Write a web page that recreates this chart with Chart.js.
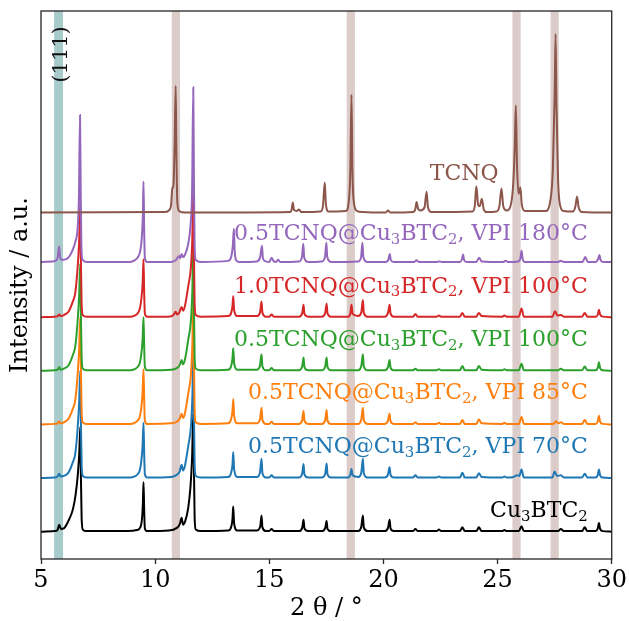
<!DOCTYPE html>
<html><head><meta charset="utf-8">
<script src="https://cdn.jsdelivr.net/npm/chart.js@4.4.0/dist/chart.umd.min.js"></script>
<style>html,body{margin:0;padding:0;background:#fff}canvas{display:block}</style>
</head><body>
<canvas id="c" width="629" height="621"></canvas>
<script>
// ---- data ----
const seriesNames = [
  'Cu₃BTC₂',
  '0.5TCNQ@Cu₃BTC₂, VPI 70°C',
  '0.5TCNQ@Cu₃BTC₂, VPI 85°C',
  '0.5TCNQ@Cu₃BTC₂, VPI 100°C',
  '1.0TCNQ@Cu₃BTC₂, VPI 100°C',
  '0.5TCNQ@Cu₃BTC₂, VPI 180°C',
  'TCNQ'
];
const seriesOffsets = [0, 1, 2, 3, 4, 5.02, 5.95];
const xTicks = [5, 10, 15, 20, 25, 30];
const tcnqBands = [10.91, 18.57, 25.83, 27.5];
const reflection111 = 5.77;

const cu3btc2 = [[5.0,0],[5.6,0.01],[5.72,0.03],[5.8,0.13],[5.87,0.05],[6.0,0.06],[6.2,0.2],[6.4,0.42],[6.52,0.7],[6.62,1.1],[6.68,1.5],[6.72,1.95],[6.75,1.0],[6.78,0.25],[6.83,0.04],[7.0,0.01],
[8.8,0.01],[9.2,0.03],[9.35,0.08],[9.42,0.22],[9.46,0.5],[9.49,0.92],[9.52,0.4],[9.55,0.06],[9.65,0.01],
[10.6,0.02],[10.95,0.07],[11.08,0.14],[11.16,0.26],[11.22,0.13],[11.32,0.2],[11.45,0.45],[11.55,0.85],[11.62,1.4],[11.67,2.2],[11.7,1.2],[11.73,0.25],[11.78,0.04],[12.0,0.01],
[13.2,0.02],[13.34,0.1],[13.39,0.25],[13.42,0.47],[13.46,0.15],[13.6,0.02],
[14.45,0.02],[14.6,0.09],[14.66,0.3],[14.7,0.08],[14.85,0.01],
[15.0,0.01],[15.1,0.05],[15.2,0.01],
[16.3,0.01],[16.44,0.07],[16.5,0.22],[16.54,0.06],[16.7,0.01],
[17.3,0.01],[17.45,0.07],[17.51,0.2],[17.55,0.05],[17.7,0.01],
[18.9,0.01],[19.03,0.09],[19.1,0.3],[19.14,0.08],[19.3,0.01],
[20.05,0.01],[20.2,0.07],[20.27,0.22],[20.31,0.06],[20.45,0.01],
[21.3,0.01],[21.4,0.05],[21.5,0.01],
[22.33,0.01],[22.43,0.04],[22.53,0.01],
[23.35,0.01],[23.46,0.08],[23.56,0.01],
[24.07,0.01],[24.18,0.08],[24.3,0.01],
[25.2,0.01],[25.3,0.03],[25.4,0.01],
[25.93,0.01],[26.05,0.1],[26.15,0.01],
[27.65,0.01],[27.77,0.05],[27.9,0.01],
[28.7,0.01],[28.82,0.08],[28.93,0.01],
[29.3,0.01],[29.39,0.06],[29.44,0.16],[29.49,0.05],[29.6,0.01],[30,0]];

const vpi70 = [[5.0,0],[5.6,0.01],[5.73,0.03],[5.8,0.08],[5.86,0.03],[6.0,0.04],[6.2,0.1],[6.4,0.3],[6.5,0.45],[6.6,0.9],[6.67,1.4],[6.72,2.0],[6.75,1.0],[6.78,0.25],[6.83,0.04],[7.0,0.01],
[8.9,0.01],[9.1,0.03],[9.25,0.08],[9.33,0.15],[9.39,0.3],[9.45,0.6],[9.49,1.03],[9.52,0.45],[9.55,0.07],[9.65,0.01],
[10.7,0.02],[10.95,0.06],[11.08,0.13],[11.16,0.25],[11.22,0.14],[11.3,0.22],[11.45,0.6],[11.57,0.97],[11.63,1.5],[11.67,2.3],[11.7,1.2],[11.73,0.25],[11.78,0.04],[12.0,0.01],
[13.2,0.02],[13.33,0.1],[13.39,0.26],[13.42,0.48],[13.46,0.16],[13.6,0.02],
[14.45,0.02],[14.59,0.1],[14.66,0.36],[14.7,0.09],[14.85,0.01],
[15.0,0.01],[15.1,0.05],[15.2,0.01],
[16.3,0.01],[16.44,0.08],[16.5,0.26],[16.54,0.07],[16.7,0.01],
[17.3,0.01],[17.45,0.08],[17.51,0.27],[17.55,0.07],[17.7,0.01],
[18.45,0.01],[18.55,0.06],[18.6,0.17],[18.65,0.05],[18.9,0.02],[19.03,0.1],[19.1,0.36],[19.14,0.09],[19.3,0.01],
[20.05,0.01],[20.2,0.07],[20.27,0.2],[20.31,0.06],[20.45,0.01],
[21.3,0.01],[21.4,0.05],[21.5,0.01],
[22.33,0.01],[22.43,0.03],[22.53,0.01],
[23.35,0.01],[23.46,0.1],[23.56,0.01],
[24.07,0.01],[24.18,0.09],[24.3,0.02],
[25.2,0.01],[25.3,0.03],[25.4,0.01],
[25.7,0.02],[25.85,0.05],[25.95,0.04],[26.05,0.16],[26.15,0.01],
[27.4,0.01],[27.5,0.12],[27.6,0.04],[27.77,0.05],[27.9,0.01],
[28.7,0.01],[28.82,0.08],[28.93,0.01],
[29.3,0.01],[29.39,0.06],[29.44,0.16],[29.49,0.05],[29.6,0.01],[30,0]];

const vpi85 = [[5.0,0],[5.6,0.01],[5.73,0.02],[5.8,0.06],[5.86,0.02],[6.0,0.04],[6.2,0.1],[6.4,0.3],[6.5,0.45],[6.6,0.9],[6.67,1.4],[6.72,2.0],[6.75,1.0],[6.78,0.25],[6.83,0.04],[7.0,0.01],
[8.9,0.01],[9.1,0.03],[9.25,0.08],[9.33,0.15],[9.39,0.3],[9.45,0.6],[9.49,1.03],[9.52,0.45],[9.55,0.07],[9.65,0.01],
[10.7,0.02],[10.95,0.05],[11.08,0.11],[11.16,0.2],[11.22,0.12],[11.3,0.2],[11.45,0.58],[11.57,0.95],[11.63,1.5],[11.67,2.3],[11.7,1.2],[11.73,0.25],[11.78,0.04],[12.0,0.01],
[13.2,0.02],[13.33,0.1],[13.39,0.26],[13.42,0.47],[13.46,0.16],[13.6,0.02],
[14.45,0.02],[14.59,0.09],[14.66,0.31],[14.7,0.08],[14.85,0.01],
[15.0,0.01],[15.1,0.05],[15.2,0.01],
[16.3,0.01],[16.44,0.08],[16.5,0.25],[16.54,0.07],[16.7,0.01],
[17.3,0.01],[17.45,0.08],[17.51,0.27],[17.55,0.07],[17.7,0.01],
[18.9,0.01],[19.03,0.09],[19.1,0.31],[19.14,0.08],[19.3,0.01],
[20.05,0.01],[20.2,0.07],[20.27,0.2],[20.31,0.06],[20.45,0.01],
[21.3,0.01],[21.4,0.04],[21.5,0.01],
[22.33,0.01],[22.43,0.03],[22.53,0.01],
[23.35,0.01],[23.46,0.08],[23.56,0.01],
[24.07,0.01],[24.18,0.09],[24.3,0.02],
[25.2,0.01],[25.3,0.03],[25.4,0.01],
[25.93,0.01],[26.05,0.14],[26.15,0.01],
[27.45,0.01],[27.55,0.06],[27.65,0.02],[27.77,0.04],[27.9,0.01],
[28.7,0.01],[28.82,0.08],[28.93,0.01],
[29.3,0.01],[29.39,0.06],[29.44,0.16],[29.49,0.05],[29.6,0.01],[30,0]];

const vpi100 = [[5.0,0],[5.6,0.01],[5.73,0.02],[5.8,0.07],[5.86,0.02],[6.0,0.04],[6.2,0.1],[6.4,0.3],[6.5,0.45],[6.6,0.9],[6.67,1.4],[6.72,2.0],[6.75,1.0],[6.78,0.25],[6.83,0.04],[7.0,0.01],
[8.9,0.01],[9.1,0.03],[9.25,0.08],[9.33,0.15],[9.39,0.3],[9.45,0.58],[9.49,1.0],[9.52,0.45],[9.55,0.07],[9.65,0.01],
[10.7,0.02],[10.95,0.05],[11.08,0.11],[11.16,0.2],[11.22,0.12],[11.3,0.2],[11.45,0.58],[11.57,0.95],[11.63,1.5],[11.67,2.3],[11.7,1.2],[11.73,0.25],[11.78,0.04],[12.0,0.01],
[13.2,0.02],[13.33,0.09],[13.39,0.24],[13.42,0.42],[13.46,0.14],[13.6,0.02],
[14.45,0.02],[14.59,0.09],[14.66,0.31],[14.7,0.08],[14.85,0.01],
[15.0,0.01],[15.1,0.05],[15.2,0.01],
[16.3,0.01],[16.44,0.08],[16.5,0.25],[16.54,0.07],[16.7,0.01],
[17.3,0.01],[17.45,0.08],[17.51,0.25],[17.55,0.07],[17.7,0.01],
[18.9,0.01],[19.03,0.09],[19.1,0.31],[19.14,0.08],[19.3,0.01],
[20.05,0.01],[20.2,0.07],[20.27,0.2],[20.31,0.06],[20.45,0.01],
[21.3,0.01],[21.4,0.04],[21.5,0.01],
[22.33,0.01],[22.43,0.03],[22.53,0.01],
[23.35,0.01],[23.46,0.09],[23.56,0.01],
[24.07,0.01],[24.18,0.09],[24.3,0.02],
[25.2,0.01],[25.3,0.03],[25.4,0.01],
[25.93,0.01],[26.05,0.13],[26.15,0.01],
[27.65,0.01],[27.77,0.04],[27.9,0.01],
[28.7,0.01],[28.82,0.08],[28.93,0.01],
[29.3,0.01],[29.39,0.06],[29.44,0.16],[29.49,0.05],[29.6,0.01],[30,0]];

const tcnq10vpi100 = [[5.0,0],[5.6,0.01],[5.73,0.02],[5.8,0.05],[5.86,0.02],[6.0,0.04],[6.2,0.1],[6.4,0.3],[6.5,0.45],[6.6,0.9],[6.67,1.4],[6.72,2.1],[6.75,1.0],[6.78,0.25],[6.83,0.04],[7.0,0.01],
[8.9,0.01],[9.1,0.03],[9.25,0.08],[9.33,0.16],[9.39,0.32],[9.45,0.62],[9.49,1.08],[9.52,0.45],[9.55,0.07],[9.65,0.01],
[10.6,0.01],[10.8,0.04],[10.9,0.1],[10.96,0.05],[11.05,0.08],[11.16,0.19],[11.22,0.12],[11.3,0.2],[11.45,0.58],[11.57,0.95],[11.63,1.5],[11.67,2.4],[11.7,1.2],[11.73,0.25],[11.78,0.04],[12.0,0.01],
[13.2,0.02],[13.33,0.08],[13.39,0.22],[13.42,0.39],[13.46,0.13],[13.6,0.02],
[14.45,0.02],[14.59,0.08],[14.66,0.29],[14.7,0.08],[14.85,0.01],
[15.0,0.01],[15.1,0.05],[15.2,0.01],
[16.3,0.01],[16.44,0.07],[16.5,0.23],[16.54,0.06],[16.7,0.01],
[17.3,0.01],[17.45,0.08],[17.51,0.25],[17.55,0.07],[17.7,0.01],
[18.45,0.01],[18.55,0.07],[18.6,0.23],[18.65,0.06],[18.9,0.02],[19.03,0.09],[19.1,0.32],[19.14,0.08],[19.3,0.01],
[20.05,0.01],[20.2,0.08],[20.27,0.23],[20.31,0.07],[20.45,0.01],
[21.3,0.01],[21.4,0.06],[21.5,0.01],
[22.33,0.01],[22.43,0.03],[22.53,0.01],
[23.35,0.01],[23.46,0.08],[23.56,0.01],
[24.07,0.01],[24.18,0.08],[24.3,0.02],
[25.2,0.01],[25.3,0.03],[25.4,0.01],
[25.93,0.01],[26.05,0.16],[26.15,0.01],
[27.4,0.01],[27.52,0.11],[27.62,0.03],[27.77,0.04],[27.9,0.01],
[28.7,0.01],[28.82,0.08],[28.93,0.01],
[29.3,0.01],[29.39,0.05],[29.44,0.14],[29.49,0.05],[29.6,0.01],[30,0]];

const vpi180 = [[5.0,0.01],[5.5,0.02],[5.7,0.05],[5.75,0.15],[5.79,0.3],[5.83,0.12],[5.9,0.05],[6.0,0.05],[6.2,0.09],[6.4,0.25],[6.5,0.38],[6.6,0.62],[6.66,1.2],[6.71,2.75],[6.74,1.3],[6.77,0.3],[6.82,0.05],[7.0,0.01],
[8.9,0.01],[9.1,0.04],[9.25,0.1],[9.35,0.22],[9.41,0.43],[9.46,0.85],[9.49,1.51],[9.52,0.6],[9.55,0.08],[9.65,0.01],
[10.7,0.01],[10.9,0.04],[11.05,0.12],[11.1,0.08],[11.16,0.16],[11.22,0.1],[11.3,0.14],[11.45,0.35],[11.55,0.7],[11.62,1.4],[11.67,3.27],[11.7,1.5],[11.73,0.3],[11.78,0.05],[12.0,0.01],
[13.2,0.03],[13.33,0.1],[13.4,0.3],[13.45,0.63],[13.48,0.25],[13.55,0.04],[13.7,0.01],
[14.45,0.02],[14.6,0.1],[14.68,0.31],[14.72,0.08],[14.85,0.02],
[15.0,0.01],[15.1,0.09],[15.2,0.02],[15.3,0.01],[15.38,0.05],[15.48,0.01],
[16.3,0.02],[16.43,0.1],[16.49,0.35],[16.53,0.09],[16.7,0.01],
[17.3,0.02],[17.44,0.1],[17.5,0.37],[17.54,0.1],[17.7,0.01],
[18.9,0.02],[19.02,0.1],[19.08,0.37],[19.12,0.1],[19.3,0.01],
[20.1,0.01],[20.22,0.06],[20.28,0.16],[20.32,0.05],[20.45,0.01],
[21.35,0.01],[21.45,0.04],[21.55,0.01],
[22.35,0.01],[22.45,0.02],[22.55,0.01],
[23.35,0.01],[23.44,0.06],[23.49,0.15],[23.53,0.05],[23.65,0.01],
[24.07,0.01],[24.19,0.09],[24.3,0.02],
[25.25,0.01],[25.35,0.03],[25.45,0.01],
[25.9,0.02],[26.0,0.08],[26.05,0.22],[26.1,0.06],[26.2,0.01],
[27.65,0.01],[27.77,0.03],[27.9,0.01],
[28.72,0.01],[28.84,0.1],[28.95,0.01],
[29.3,0.01],[29.4,0.06],[29.46,0.14],[29.51,0.05],[29.62,0.01],[30,0.01]];

const tcnq = [[5,0],[10.4,0.01],[10.6,0.04],[10.7,0.15],[10.75,0.45],[10.8,0.5],[10.85,1.2],[10.9,2.36],[10.93,1.2],[10.97,0.2],[11.05,0.03],[11.3,0],
[15.9,0.01],[15.98,0.06],[16.03,0.19],[16.08,0.05],[16.2,0.03],[16.3,0.06],[16.4,0.01],
[17.25,0.02],[17.35,0.12],[17.43,0.56],[17.48,0.15],[17.6,0.02],
[18.35,0.03],[18.48,0.2],[18.55,0.8],[18.6,2.2],[18.64,0.8],[18.72,0.15],[18.85,0.03],[19.1,0.01],
[20.1,0],[20.2,0.04],[20.3,0],
[21.3,0.01],[21.4,0.07],[21.45,0.2],[21.52,0.07],[21.62,0.04],[21.8,0.1],[21.89,0.39],[21.95,0.1],[22.1,0.01],
[23.9,0.02],[24.0,0.12],[24.07,0.49],[24.15,0.14],[24.22,0.12],[24.31,0.26],[24.4,0.05],[24.55,0.01],
[24.95,0.02],[25.08,0.12],[25.17,0.45],[25.25,0.12],[25.4,0.04],[25.55,0.1],[25.68,0.5],[25.75,1.2],[25.8,2.0],[25.85,0.9],[25.92,0.35],[26.0,0.47],[26.06,0.15],[26.2,0.03],
[27.1,0.03],[27.3,0.2],[27.42,0.8],[27.5,2.2],[27.54,3.33],[27.58,2.0],[27.65,0.6],[27.75,0.12],[27.9,0.03],
[28.3,0.02],[28.41,0.12],[28.48,0.3],[28.55,0.1],[28.7,0.01],[30,0]];

const seriesData = [cu3btc2, vpi70, vpi85, vpi100, tcnq10vpi100, vpi180, tcnq];
const seriesColors = ['#000000', '#1f77b4', '#ff7f0e', '#2ca02c', '#d62728', '#9467bd', '#8c564b'];

// ---- chart ----
const SERIF = '"DejaVu Serif", "Liberation Serif", serif';
const SUB = {'₀':'0','₁':'1','₂':'2','₃':'3','₄':'4','₅':'5','₆':'6','₇':'7','₈':'8','₉':'9'};
function drawRich(ctx, text, x, y, size, align) {
  const segs = [];
  for (const ch of text) {
    const sub = SUB[ch] !== undefined;
    const c = sub ? SUB[ch] : ch;
    const last = segs[segs.length - 1];
    if (last && last.sub === sub) last.t += c; else segs.push({t: c, sub});
  }
  let w = 0;
  segs.forEach(s => { ctx.font = (s.sub ? size * 0.68 : size) + 'px ' + SERIF; s.w = ctx.measureText(s.t).width; w += s.w; });
  let cx = align === 'right' ? x - w : x;
  ctx.textAlign = 'left'; ctx.textBaseline = 'alphabetic';
  segs.forEach(s => {
    ctx.font = (s.sub ? size * 0.68 : size) + 'px ' + SERIF;
    ctx.fillText(s.t, cx, s.sub ? y + size * 0.17 : y);
    cx += s.w;
  });
}

const labelLift = [0.27, 0.47, 0.47, 0.46, 0.46, 0.41, 0.61];

const decorPlugin = {
  id: 'decor',
  beforeDatasetsDraw(chart) {
    const {ctx, chartArea: a, scales: {x}} = chart;
    ctx.save();
    ctx.fillStyle = 'rgba(140,86,75,0.3)';
    tcnqBands.forEach(c => {
      const l = x.getPixelForValue(c - 0.18), r = x.getPixelForValue(c + 0.18);
      ctx.fillRect(l, a.top, r - l, a.bottom - a.top);
    });
    ctx.fillStyle = 'rgba(95,158,160,0.55)';
    const l = x.getPixelForValue(reflection111 - 0.195), r = x.getPixelForValue(reflection111 + 0.195);
    ctx.fillRect(l, a.top, r - l, a.bottom - a.top);
    ctx.restore();
  },
  afterDatasetsDraw(chart) {
    const {ctx, chartArea: a, scales: {x, y}} = chart;
    ctx.save();
    // series labels
    seriesNames.forEach((name, i) => {
      ctx.fillStyle = seriesColors[i];
      const yy = y.getPixelForValue(seriesOffsets[i] + labelLift[i]);
      if (name === 'TCNQ') drawRich(ctx, name, x.getPixelForValue(22.03), yy, 22, 'left');
      else drawRich(ctx, name, x.getPixelForValue(28.95), yy, 22, 'right');
    });
    // (111)
    ctx.fillStyle = '#111';
    ctx.translate(x.getPixelForValue(5.92), y.getPixelForValue(8.9));
    ctx.rotate(-Math.PI / 2);
    ctx.font = '21px ' + SERIF;
    ctx.textAlign = 'center'; ctx.textBaseline = 'middle';
    ctx.fillText('(111)', 0, 0);
    ctx.setTransform(1, 0, 0, 1, 0, 0);
    // frame
    ctx.strokeStyle = '#262626';
    ctx.lineWidth = 1.3;
    ctx.strokeRect(a.left, a.top, a.right - a.left, a.bottom - a.top);
    // y title
    ctx.fillStyle = '#000';
    ctx.translate(21, (a.top + a.bottom) / 2);
    ctx.rotate(-Math.PI / 2);
    ctx.font = '24px ' + SERIF;
    ctx.textAlign = 'center'; ctx.textBaseline = 'middle';
    ctx.fillText('Intensity / a.u.', 0, 0);
    ctx.restore();
  }
};

new Chart(document.getElementById('c'), {
  type: 'line',
  data: {
    datasets: seriesData.map((d, i) => ({
      label: seriesNames[i],
      data: d.map(p => ({x: p[0], y: p[1] + seriesOffsets[i]})),
      borderColor: seriesColors[i],
      borderWidth: 2,
      pointRadius: 0,
      fill: false,
      cubicInterpolationMode: 'monotone',
      order: seriesData.length - 1 - i
    }))
  },
  options: {
    responsive: false,
    animation: false,
    events: [],
    layout: {padding: {left: 41, right: 17, top: 11, bottom: 0}},
    plugins: {legend: {display: false}, tooltip: {enabled: false}},
    scales: {
      x: {
        type: 'linear', min: 5, max: 30,
        afterBuildTicks: s => { s.ticks = xTicks.map(v => ({value: v})); },
        afterFit: s => { s.height = 62; },
        ticks: {font: {family: SERIF, size: 24}, color: '#000', padding: 2, maxRotation: 0, autoSkip: false},
        grid: {drawOnChartArea: false, drawTicks: true, tickLength: 5, tickColor: '#262626', tickWidth: 1.3},
        border: {display: false},
        title: {display: true, text: '2 θ / °', font: {family: SERIF, size: 24, lineHeight: 1}, color: '#000', padding: {top: 0, bottom: 0}}
      },
      y: {display: false, min: -0.51, max: 9.71}
    }
  },
  plugins: [decorPlugin]
});
</script>
</body></html>
